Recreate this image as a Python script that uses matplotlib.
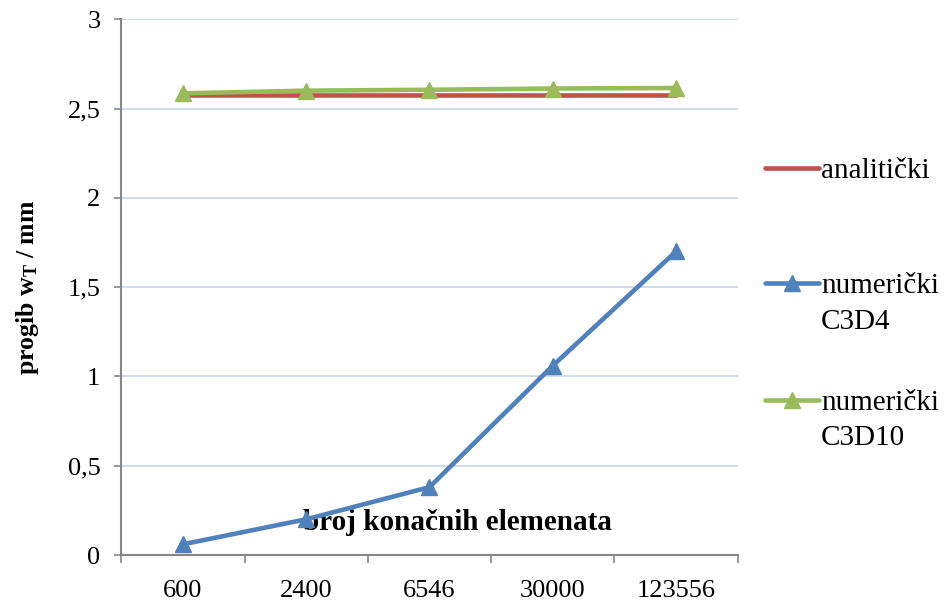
#!/usr/bin/env python3

import matplotlib
matplotlib.use("Agg")
import matplotlib.pyplot as plt
import matplotlib.ticker as ticker
from matplotlib.lines import Line2D
import numpy as np

# podaci
kategorije = ["600", "2400", "6546", "30000", "123556"]
analiticki = [2.575, 2.575, 2.575, 2.575, 2.575]
c3d4 = [0.06, 0.20, 0.38, 1.06, 1.70]
c3d10 = [2.585, 2.600, 2.605, 2.612, 2.615]

labels = ["analitički", "numerički\nC3D4", "numerički\nC3D10"]
colors = ["#C0504D", "#4F81BD", "#9BBB59"]


def draw():
    plt.rcParams['font.family'] = ['Liberation Serif', 'DejaVu Serif']
    plt.rcParams['font.size'] = 19
    plt.rcParams['mathtext.fontset'] = 'custom'
    plt.rcParams['mathtext.rm'] = 'Liberation Serif'
    plt.rcParams['mathtext.bf'] = 'Liberation Serif:bold'

    fig = plt.figure(figsize=(9.47, 6.01), dpi=100)
    ax = fig.add_axes([0.128, 0.0765, 0.651, 0.8915])

    x = np.arange(len(kategorije))
    ax.plot(x, analiticki, color=colors[0], lw=3.3, solid_capstyle='round', zorder=3)
    ax.plot(x, c3d4, color=colors[1], lw=3.3, marker='^', ms=11, zorder=4)
    ax.plot(x, c3d10, color=colors[2], lw=3.3, marker='^', ms=11, zorder=4)

    ax.set_xlim(-0.5, len(kategorije) - 0.5)
    ax.set_ylim(0, 3)
    ax.yaxis.set_major_locator(ticker.MultipleLocator(0.5))
    ax.yaxis.set_major_formatter(
        ticker.FuncFormatter(lambda v, p: ("%g" % v).replace(".", ",")))
    ax.grid(axis='y', color="#C9D6EC", lw=1.2)
    ax.set_axisbelow(True)

    # kategorije izmedju crtica
    ax.set_xticks(np.arange(len(kategorije) + 1) - 0.5)
    ax.set_xticklabels([])
    ax.set_xticks(x, minor=True)
    ax.set_xticklabels(kategorije, minor=True)
    ax.tick_params(axis='x', which='minor', length=0, pad=18)
    ax.tick_params(axis='x', which='major', length=6, width=1.2, color="#868686")
    ax.tick_params(axis='y', length=5, width=1.2, color="#868686", pad=10)

    for s in ["top", "right"]:
        ax.spines[s].set_visible(False)
    for s in ["left", "bottom"]:
        ax.spines[s].set_color("#868686")
        ax.spines[s].set_linewidth(1.5)

    ax.set_ylabel(r"progib $\mathbf{w_T}$ / mm", fontsize=18.5, fontweight='bold',
                  labelpad=19)
    ax.text(0.545, 0.06, "broj konačnih elemenata", transform=ax.transAxes,
            ha='center', va='center', fontsize=21, fontweight='bold')

    # legenda
    ly = [0.7205, 0.529, 0.3345]
    dy = 0.059
    for i in range(3):
        fig.add_artist(Line2D([0.808, 0.865], [ly[i], ly[i]], color=colors[i], lw=3.3,
                              solid_capstyle='round', transform=fig.transFigure))
        if i > 0:
            fig.add_artist(Line2D([0.8365], [ly[i]], color=colors[i], marker='^', ms=11,
                                  transform=fig.transFigure))
        for k, line in enumerate(labels[i].split("\n")):
            fig.text(0.867, ly[i] - k * dy, line, ha='left', va='center_baseline',
                     fontsize=21)

    fig.savefig('out.png', dpi=100)


if __name__ == "__main__":
    draw()
